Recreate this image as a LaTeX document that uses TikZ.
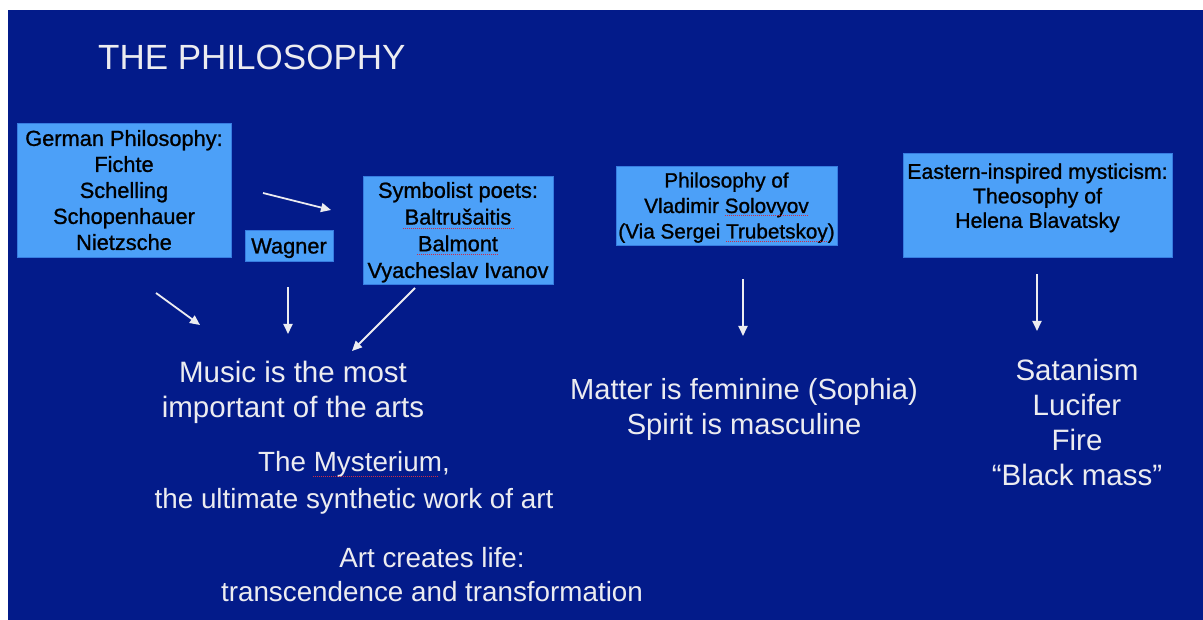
\documentclass[tikz,border=0pt]{standalone}
\usepackage{fontspec}
\setmainfont{Liberation Sans}
\newfontfamily\boxfont[FakeBold=1]{Liberation Sans}
\usetikzlibrary{arrows.meta}

\definecolor{slideblue}{RGB}{3,27,138}
\definecolor{boxblue}{RGB}{76,160,248}
\definecolor{boxline}{RGB}{55,125,225}
\definecolor{chalk}{RGB}{236,236,240}
\definecolor{spellred}{RGB}{205,45,70}

\tikzset{
  namebox/.style={fill=boxblue, draw=boxline, line width=0.8pt, align=center, text=black,
    inner sep=0pt, text depth=-3.5pt, font=\boxfont\fontsize{21.8}{26}\selectfont},
  idea/.style={text=chalk, align=center, font=\fontsize{29.5}{35}\selectfont},
  smallidea/.style={idea, font=\fontsize{27.8}{36.5}\selectfont},
  arr/.style={draw=chalk, line width=1.8pt, -{Triangle[length=10pt,width=9pt]}},
  spell/.style={draw=spellred, line width=0.7pt, dash pattern=on 1pt off 1pt}
}

\begin{document}
\begin{tikzpicture}[x=1pt,y=-1pt]
  \useasboundingbox (0,0) rectangle (1203,620);
  \fill[white] (0,0) rectangle (1203,620);
  \fill[slideblue] (8,10) rectangle (1203,620);

  % title
  \node[text=chalk, font=\fontsize{35}{42}\selectfont, anchor=base west, inner sep=0pt] (title) at (98,70) {THE PHILOSOPHY};

  % sources
  \node[namebox, minimum width=214pt, minimum height=134pt, text depth=-5pt] (german) at (124,190)
    {German Philosophy:\\Fichte\\Schelling\\Schopenhauer\\Nietzsche};
  \node[namebox, minimum width=88pt, minimum height=31pt] (wagner) at (289,246) {Wagner};
  \node[namebox, minimum width=190pt, minimum height=108pt, font=\boxfont\fontsize{21.8}{26.7}\selectfont] (symbolist) at (458,230)
    {Symbolist poets:\\Baltrušaitis\\Balmont\\Vyacheslav Ivanov};
  \node[namebox, minimum width=221pt, minimum height=79pt, font=\boxfont\fontsize{20.7}{25.5}\selectfont] (solovyov) at (726.5,205.5)
    {Philosophy of\\Vladimir Solovyov\\(Via Sergei Trubetskoy)};
  \node[namebox, minimum width=269pt, anchor=north, inner ysep=10pt, text depth=20pt,
    font=\boxfont\fontsize{21.3}{24.5}\selectfont] (eastern) at (1037.5,153)
    {Eastern-inspired mysticism:\\Theosophy of\\Helena Blavatsky};

  % ideas
  \node[idea] (music) at (293,392) {Music is the most\\important of the arts};
  \node[smallidea] (mysterium) at (354,483) {The Mysterium,\\the ultimate synthetic work of art};
  \node[smallidea, font=\fontsize{27.8}{34}\selectfont] (artlife) at (432,575) {Art creates life:\\transcendence and transformation};
  \node[idea, font=\fontsize{29.1}{35}\selectfont] (sophia) at (744,409) {Matter is feminine (Sophia)\\Spirit is masculine};
  \node[idea] (satan) at (1077,422) {Satanism\\Lucifer\\Fire\\“Black mass”};

  % arrow ends
  \coordinate (german-out) at (263,193);
  \coordinate (symbolist-in) at (331,210);
  \coordinate (german-down) at (156,293);
  \coordinate (music-left) at (200,325);
  \coordinate (wagner-down) at (288,287);
  \coordinate (music-top) at (288,334);
  \coordinate (symbolist-down) at (415,288);
  \coordinate (music-right) at (352,351);
  \coordinate (solovyov-down) at (743,279);
  \coordinate (sophia-top) at (743,336);
  \coordinate (eastern-down) at (1037,274);
  \coordinate (satan-top) at (1037,331);

  \draw[arr] (german-out) -- (symbolist-in);
  \draw[arr] (german-down) -- (music-left);
  \draw[arr] (wagner-down) -- (music-top);
  \draw[arr] (symbolist-down) -- (music-right);
  \draw[arr] (solovyov-down) -- (sophia-top);
  \draw[arr] (eastern-down) -- (satan-top);

  % spell-check marks
  \draw[spell] (403,228) -- (514,228);
  \draw[spell] (417,254) -- (499,254);
  \draw[spell] (725,215) -- (809,215);
  \draw[spell] (726,241) -- (827,241);
  \draw[spell] (313,476) -- (439,476);
\end{tikzpicture}
\end{document}
